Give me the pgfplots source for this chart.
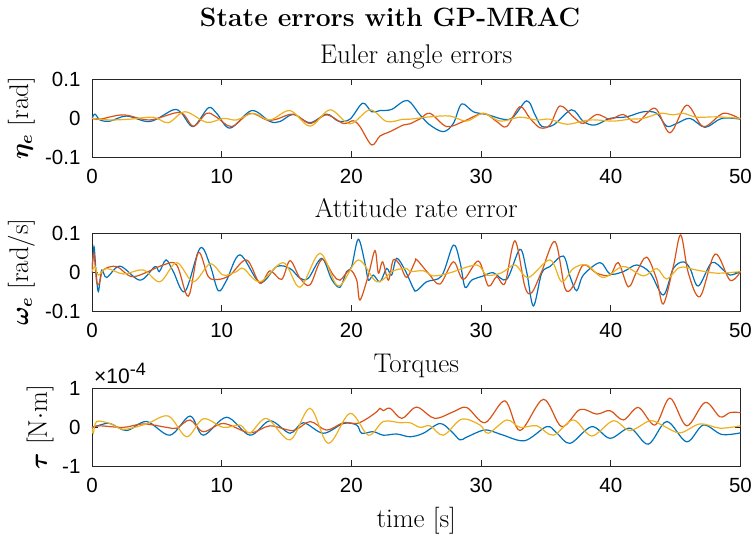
\documentclass[border=0pt]{standalone}
\usepackage{amsmath}
\usepackage{fontspec}
\usepackage{pgfplots}
\pgfplotsset{compat=1.18}
\newfontfamily\tickfont{Liberation Sans}
\definecolor{mblue}{rgb}{0,0.447,0.741}
\definecolor{morange}{rgb}{0.850,0.325,0.098}
\definecolor{myellow}{rgb}{0.929,0.694,0.125}
\pgfplotsset{
  mstyle/.style={
    scale only axis, width=648.5pt, height=78pt, anchor=south west,
    xmin=0, xmax=50, xtick={0,10,20,30,40,50},
    /pgf/number format/assume math mode=true,
    tick label style={font=\tickfont\fontsize{20.5}{20.5}\selectfont},
    xticklabel style={yshift=-9pt},
    yticklabel style={xshift=-8pt},
    tick align=inside, major tick length=6pt,
    axis line style={black!85, line width=0.8pt},
    every tick/.style={black!85, line width=0.8pt},
    title style={at={(axis description cs:0.5,1)}, anchor=base, yshift=9pt, font=\fontsize{27}{30}\selectfont},
    ylabel style={font=\fontsize{27}{30}\selectfont, anchor=center},
    every axis plot/.append style={line width=1.2pt, smooth, tension=0.55},
  }
}
\begin{document}
\begin{tikzpicture}
\node[anchor=base, font=\bfseries\fontsize{26.5}{30}\selectfont] at (390pt,-27pt) {State errors with GP-MRAC};
% ---------------- Plot 1
\begin{axis}[mstyle, at={(92pt,-157pt)}, ymin=-0.1, ymax=0.1, ytick={-0.1,0,0.1}, yticklabels={-0.1,0,0.1},
  title={Euler angle errors},
  ylabel={$\boldsymbol{\eta_e}$ [rad]}, ylabel style={at={(axis description cs:-0.109,0.5)}}]
\addplot[mblue] coordinates {(0,-0.001)(0.23,0.010)(0.62,-0.005)(1.39,-0.008)(2.67,0.005)(4.47,-0.009)(6.27,0.021)(6.91,0.012)(7.81,-0.022)(8.97,0.026)(9.61,0.012)(10.64,-0.026)(12.31,0.019)(13.72,-0.009)(14.5,-0.009)(15.52,0.009)(16.81,-0.012)(18.09,0.010)(18.99,-0.008)(19.89,-0.003)(20.87,0.038)(21.56,0.016)(22.21,0.019)(23.1,0.022)(24.3,0.045)(25.29,0.008)(26.06,-0.018)(27.09,-0.035)(27.86,-0.014)(28.5,0.036)(29.4,0.016)(30.43,0.009)(32.23,-0.003)(33.51,0.044)(34.16,0.008)(34.67,-0.021)(35.57,-0.018)(36.98,0.021)(37.88,-0.009)(38.78,-0.018)(39.94,-0.001)(41.22,0.003)(42.51,0.016)(43.54,0.012)(44.31,-0.021)(45.08,-0.014)(46.11,-0.001)(47.27,-0.024)(48.55,-0.001)(50,-0.003)};
\addplot[morange] coordinates {(0,-0.001)(0.62,-0.003)(2.42,0.008)(4.47,-0.005)(6.78,0.014)(7.81,-0.021)(8.84,0.012)(9.61,0.002)(10.77,-0.022)(12.18,0.012)(13.47,-0.005)(14.24,-0.003)(15.52,0.010)(16.81,-0.014)(18.09,0.008)(19.38,-0.014)(20.15,-0.007)(20.66,-0.022)(21.56,-0.069)(22.21,-0.046)(22.98,-0.035)(24.0,-0.018)(24.5,-0.015)(25.3,-0.002)(26.06,0.012)(27.34,-0.022)(28.63,-0.009)(30.17,0.012)(31.2,-0.009)(31.97,-0.022)(32.99,0.029)(33.77,-0.001)(34.54,-0.025)(35.31,-0.018)(36.08,0.031)(37.11,0.003)(37.88,-0.014)(38.91,0.009)(39.94,-0.003)(40.97,0.009)(42.0,-0.012)(43.41,0.025)(44.56,-0.038)(45.85,0.033)(47.13,-0.022)(48.68,0.012)(50,-0.003)};
\addplot[myellow] coordinates {(0,-0.001)(1.39,-0.005)(2.93,-0.003)(4.73,0.002)(5.89,-0.012)(7.17,0.016)(8.84,-0.011)(10.13,-0.001)(11.15,-0.005)(12.44,0.012)(13.72,-0.005)(15.27,0.019)(16.81,-0.021)(18.35,0.021)(19.89,-0.015)(21.43,0.021)(22.72,-0.009)(24.0,-0.003)(24.52,-0.003)(26.06,0.003)(27.6,0.005)(28.89,-0.008)(30.17,0.012)(31.46,-0.008)(33.0,0.002)(34.29,-0.005)(35.31,-0.003)(36.6,-0.016)(38.4,-0.005)(40.2,-0.008)(41.48,-0.003)(42.51,-0.001)(43.8,0.012)(44.82,0.008)(45.59,0.012)(46.62,0.002)(48.17,0.003)(50,-0.001)};
\end{axis}
% ---------------- Plot 2
\begin{axis}[mstyle, at={(92pt,-311pt)}, ymin=-0.1, ymax=0.1, ytick={-0.1,0,0.1}, yticklabels={-0.1,0,0.1},
  title={Attitude rate error},
  ylabel={$\boldsymbol{\omega_e}$ [rad/s]}, ylabel style={at={(axis description cs:-0.109,0.5)}}]
\addplot[mblue] coordinates {(0,-0.003)(0.15,0.065)(0.31,0.001)(0.49,-0.050)(0.75,0.005)(1.13,-0.014)(2.16,0.015)(3.70,-0.021)(4.86,0.014)(5.19,0.001)(5.71,0.031)(6.27,0.001)(7.17,-0.050)(8.33,0.061)(9.10,0.018)(9.74,-0.048)(10.38,-0.021)(11.41,0.044)(12.95,-0.027)(14.24,0.014)(15.27,0.009)(16.04,-0.016)(16.68,-0.016)(17.71,0.035)(18.48,-0.019)(19.12,-0.039)(19.63,0.001)(20.02,0.014)(20.53,0.084)(21.05,0.022)(21.31,-0.021)(21.69,-0.008)(22.21,-0.025)(22.72,0.009)(23.10,-0.008)(23.49,0.035)(24.13,0.005)(24.78,-0.042)(25.03,-0.048)(25.80,-0.025)(26.96,-0.010)(27.86,0.069)(28.37,0.026)(28.76,-0.039)(29.27,-0.021)(30.17,-0.010)(30.94,-0.002)(31.97,-0.019)(32.99,0.058)(33.51,0.001)(34.03,-0.087)(34.67,-0.003)(35.31,0.014)(36.34,0.041)(36.86,-0.012)(37.37,-0.048)(37.88,-0.008)(39.17,0.024)(39.94,-0.005)(40.97,0.001)(42.0,0.018)(43.03,-0.002)(44.05,-0.059)(44.82,0.009)(45.59,0.026)(46.11,0.009)(46.75,-0.036)(47.78,0.024)(48.68,0.005)(49.19,-0.008)(50,0.001)};
\addplot[morange] coordinates {(0,0.005)(0.15,0.048)(0.36,-0.025)(0.57,-0.029)(0.87,0.005)(1.90,0.014)(3.19,-0.012)(5.50,0.018)(6.53,0.018)(7.43,-0.062)(8.20,0.050)(8.97,-0.012)(9.74,-0.019)(10.64,-0.008)(11.92,0.031)(12.95,-0.029)(13.72,0.003)(14.62,-0.019)(15.27,0.029)(16.04,-0.016)(16.81,-0.033)(17.71,0.032)(18.61,-0.008)(19.12,-0.021)(19.89,0.005)(20.41,-0.021)(20.66,-0.072)(21.31,-0.008)(21.82,0.055)(22.08,-0.003)(22.41,0.026)(22.85,-0.021)(23.23,0.031)(23.75,0.018)(24.26,-0.014)(24.90,0.026)(25.03,0.032)(25.93,-0.003)(26.83,-0.031)(27.86,0.026)(28.63,-0.019)(29.79,0.028)(30.56,-0.036)(31.20,-0.012)(31.84,-0.029)(32.61,0.080)(33.38,-0.038)(33.90,-0.053)(34.67,0.001)(35.70,0.078)(36.47,-0.042)(37.11,-0.036)(37.88,0.018)(38.91,-0.003)(39.94,-0.008)(40.58,0.024)(41.35,-0.038)(42.0,0.001)(42.77,0.038)(43.54,-0.019)(44.05,-0.082)(44.82,0.014)(45.39,0.095)(45.98,-0.003)(46.88,-0.063)(48.04,0.046)(49.19,-0.021)(50,0.001)};
\addplot[myellow] coordinates {(0,0.001)(0.23,0.014)(0.49,-0.008)(1.13,0.009)(2.42,-0.005)(3.96,0.005)(5.24,-0.025)(6.53,0.024)(7.81,-0.025)(9.10,0.021)(10.13,-0.008)(11.15,0.001)(11.67,0.009)(12.95,-0.025)(14.75,0.024)(16.04,-0.039)(17.58,0.048)(18.99,-0.036)(20.53,0.031)(21.95,-0.025)(23.23,0.003)(24.26,0.009)(24.52,0.001)(25.55,0.003)(26.32,-0.010)(27.60,-0.002)(29.66,0.018)(30.43,-0.008)(31.58,-0.002)(32.61,0.018)(33.64,-0.014)(35.31,0.031)(36.21,-0.025)(37.11,0.009)(38.14,0.018)(39.42,-0.014)(40.97,0.014)(42.51,-0.010)(43.54,0.009)(44.31,-0.018)(45.34,0.012)(46.62,0.005)(48.17,-0.003)(50,0.001)};
\end{axis}
% ---------------- Plot 3
\begin{axis}[mstyle, at={(92pt,-466pt)}, ymin=-1, ymax=1, ytick={-1,0,1}, yticklabels={-1,0,1},
  title={Torques},
  ylabel={$\boldsymbol{\tau}$ [N$\cdot$m]}, ylabel style={at={(axis description cs:-0.080,0.5)}},
  xlabel={time [s]}, xlabel style={at={(axis description cs:0.5,0)}, anchor=base, yshift=-61pt, font=\fontsize{27}{30}\selectfont}]
\addplot[mblue] coordinates {(0,-0.01)(0.62,0.05)(1.39,0.09)(2.67,-0.09)(4.21,0.14)(6.01,-0.21)(7.56,0.28)(8.58,-0.21)(10.38,0.25)(12.18,-0.21)(13.72,0.16)(15.27,-0.16)(16.29,0.11)(17.84,-0.16)(19.38,0.09)(20.41,0.05)(20.79,-0.16)(21.69,-0.12)(22.46,-0.21)(23.49,-0.18)(24.52,-0.25)(25.55,-0.16)(26.83,0.09)(27.73,-0.12)(28.37,-0.33)(28.89,-0.26)(30.17,-0.08)(30.94,-0.12)(31.71,-0.21)(33.38,-0.35)(35.06,0.01)(35.83,-0.15)(36.86,-0.42)(38.53,0.01)(39.94,-0.29)(41.48,-0.03)(42.89,-0.44)(44.31,0.14)(45.85,-0.38)(47.13,0.05)(48.55,-0.19)(50,-0.15)};
\addplot[morange] coordinates {(0,-0.01)(0.62,0.03)(2.42,-0.01)(3.96,0.08)(5.76,-0.01)(6.53,-0.03)(7.56,0.18)(8.58,-0.12)(10.13,0.09)(12.18,-0.15)(13.72,0.03)(15.52,-0.09)(16.81,0.14)(18.09,-0.08)(19.38,0.11)(20.41,0.09)(21.18,0.21)(21.95,0.39)(22.21,0.48)(22.46,0.42)(22.98,0.48)(23.88,0.22)(24.78,0.48)(25.29,0.48)(26.44,0.22)(27.86,0.39)(28.89,0.50)(30.30,0.11)(31.84,0.67)(33.0,-0.09)(34.80,0.71)(36.21,0.01)(37.63,0.45)(38.91,0.33)(39.94,0.42)(40.97,0.18)(42.13,0.50)(43.41,0.05)(44.56,0.74)(45.85,0.03)(47.27,0.63)(48.42,0.26)(49.19,0.37)(50,0.37)};
\addplot[myellow] coordinates {(0,-0.01)(0.10,-0.16)(0.36,0.14)(1.39,0.09)(2.42,-0.06)(4.21,0.08)(5.89,0.28)(7.30,-0.25)(8.58,0.21)(10.13,-0.01)(11.41,0.05)(12.18,-0.15)(13.47,0.22)(15.27,-0.33)(16.81,0.48)(18.22,-0.42)(19.89,0.35)(21.31,-0.21)(22.46,0.14)(23.75,0.11)(24.52,0.11)(25.29,-0.01)(26.06,0.03)(27.09,-0.21)(28.50,0.20)(29.92,0.05)(30.56,-0.16)(31.97,0.18)(33.0,-0.01)(34.29,0.03)(35.57,-0.21)(37.11,0.18)(38.53,-0.23)(40.19,0.16)(41.48,-0.09)(43.03,0.16)(44.05,0.03)(45.34,-0.15)(46.88,0.08)(48.42,-0.03)(50,0.03)};
\end{axis}
\node[anchor=base west, inner sep=0pt] at (94pt,-384pt) {\tickfont\fontsize{21}{21}\selectfont ×10\raisebox{8pt}{\fontsize{18}{18}\selectfont -4}};
\pgfresetboundingbox
\useasboundingbox (0pt,-537pt) rectangle (753pt,0pt);
\end{tikzpicture}
\end{document}
